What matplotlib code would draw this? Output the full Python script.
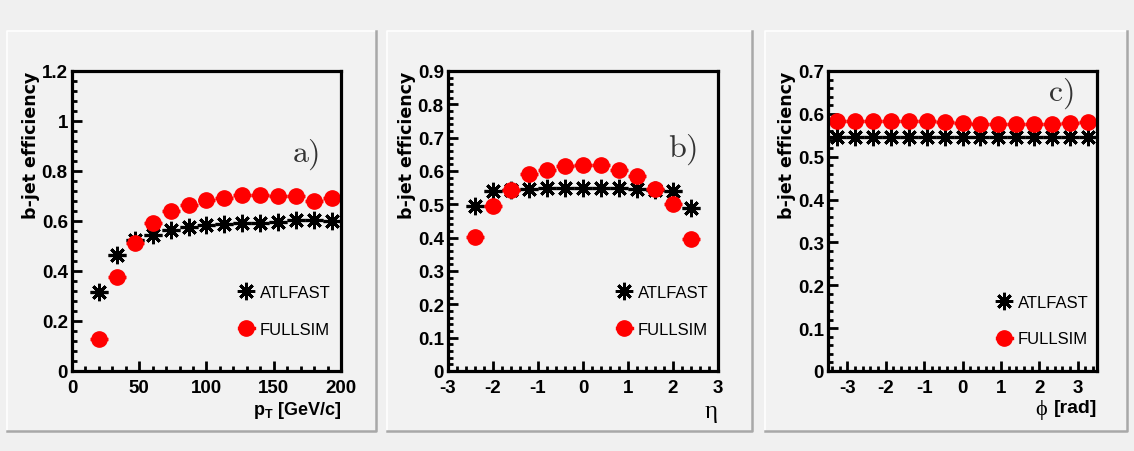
import numpy as np
import matplotlib
matplotlib.use('Agg')
import matplotlib.pyplot as plt
from matplotlib.ticker import MultipleLocator, FuncFormatter
from matplotlib.lines import Line2D
from matplotlib.patches import Rectangle

plt.rcParams['font.family'] = ['Liberation Sans', 'DejaVu Sans']
plt.rcParams['mathtext.fontset'] = 'custom'
plt.rcParams['mathtext.bf'] = 'Liberation Sans:bold'
plt.rcParams['mathtext.rm'] = 'Liberation Sans'
plt.rcParams['axes.unicode_minus'] = False

# ------------------------------------------------------| Data
# a) efficiency vs pT
pt_centers = [20.0, 33.3, 46.7, 60.0, 73.3, 86.7, 100.0, 113.3, 126.7, 140.0, 153.3, 166.7, 180.0, 193.3]
pt_halfwidth = 6.67
pt_atlfast = [0.316, 0.463, 0.524, 0.543, 0.563, 0.578, 0.583, 0.587, 0.591, 0.594, 0.596, 0.603, 0.603, 0.600]
pt_fullsim = [0.127, 0.376, 0.514, 0.594, 0.640, 0.663, 0.684, 0.691, 0.703, 0.703, 0.700, 0.700, 0.680, 0.691]

# b) efficiency vs eta
eta_centers = [-2.4, -2.0, -1.6, -1.2, -0.8, -0.4, 0.0, 0.4, 0.8, 1.2, 1.6, 2.0, 2.4]
eta_halfwidth = 0.2
eta_atlfast = [0.495, 0.540, 0.543, 0.547, 0.550, 0.550, 0.550, 0.550, 0.550, 0.545, 0.543, 0.540, 0.490]
eta_fullsim = [0.402, 0.495, 0.543, 0.590, 0.602, 0.615, 0.617, 0.617, 0.603, 0.585, 0.545, 0.502, 0.395]

# c) efficiency vs phi
phi_centers = [-3.267, -2.8, -2.333, -1.867, -1.4, -0.933, -0.467, 0.0, 0.467, 0.933, 1.4, 1.867, 2.333, 2.8, 3.267]
phi_halfwidth = 0.2333
phi_atlfast = [0.547] * 15
phi_fullsim = [0.584, 0.584, 0.584, 0.584, 0.584, 0.584, 0.581, 0.579, 0.577, 0.576, 0.576, 0.576, 0.576, 0.579, 0.581]

# ------------------------------------------------------| Figure
bg = '#f0f0f0'
fig = plt.figure(figsize=(11.34, 4.52), dpi=100, facecolor=bg)
W, H = 1134.0, 452.0

# raised panel frames (pixel boxes: x0, x1, y0(top), y1(bottom))
frames = [(7, 376, 32, 432), (387, 752, 32, 432), (765, 1127, 32, 432)]
for x0, x1, y0, y1 in frames:
    fx0, fx1 = x0 / W, x1 / W
    fy0, fy1 = 1 - y1 / H, 1 - y0 / H
    fig.add_artist(Rectangle((fx0, fy0), fx1 - fx0, fy1 - fy0, transform=fig.transFigure,
                             facecolor='#f2f2f2', edgecolor='none', zorder=0))
    fig.add_artist(Line2D([fx0, fx0, fx1], [fy0, fy1, fy1], transform=fig.transFigure,
                          color='white', lw=1.2, zorder=1))
    fig.add_artist(Line2D([fx0, fx1, fx1], [fy0, fy0, fy1], transform=fig.transFigure,
                          color='#a8a8a8', lw=1.8, zorder=1))

axes_px = [(72, 341), (448, 718), (828, 1097)]
panels = [
    dict(x=pt_centers, xe=pt_halfwidth, a=pt_atlfast, f=pt_fullsim, xlim=(0, 200), ylim=(0, 1.2),
         xmaj=50, xmin=10, ymaj=0.2, ymin=0.04, tag='a)', tagpos=(0.918, 0.725),
         leg=(0.62, 0.2)),
    dict(x=eta_centers, xe=eta_halfwidth, a=eta_atlfast, f=eta_fullsim, xlim=(-3, 3), ylim=(0, 0.9),
         xmaj=1, xmin=0.2, ymaj=0.1, ymin=0.02, tag='b)', tagpos=(0.922, 0.74),
         leg=(0.625, 0.2)),
    dict(x=phi_centers, xe=phi_halfwidth, a=phi_atlfast, f=phi_fullsim, xlim=(-3.5, 3.5), ylim=(0, 0.7),
         xmaj=1, xmin=0.2, ymaj=0.1, ymin=0.02, tag='c)', tagpos=(0.914, 0.929),
         leg=(0.627, 0.168)),
]

star = (8, 2, 0)

for (px0, px1), p in zip(axes_px, panels):
    ax = fig.add_axes([px0 / W, 1 - 372 / H, (px1 - px0) / W, 300 / H])
    ax.set_facecolor('#f2f2f2')
    ax.set_zorder(2)
    ax.errorbar(p['x'], p['a'], xerr=p['xe'], fmt='none', ecolor='black', elinewidth=2.4, capsize=0)
    ax.plot(p['x'], p['a'], ls='none', marker=star, ms=12.5, mew=2.1, color='black')
    ax.errorbar(p['x'], p['f'], xerr=p['xe'], fmt='none', ecolor='red', elinewidth=2.4, capsize=0)
    ax.plot(p['x'], p['f'], ls='none', marker='o', ms=11, color='red', mec='red')

    h1 = Line2D([], [], color='black', ls='none', marker=star, ms=12.5, mew=2.1)
    h2 = Line2D([], [], color='red', ls='-', lw=2.4, marker='o', ms=11)
    ax.legend([h1, h2], ['ATLFAST', 'FULLSIM'], loc='center left', bbox_to_anchor=p['leg'],
              frameon=False, fontsize=12, handlelength=0.9, handletextpad=0.35,
              labelspacing=1.3, borderpad=0, borderaxespad=0)

    ax.set_xlim(*p['xlim'])
    ax.set_ylim(*p['ylim'])
    ax.xaxis.set_major_locator(MultipleLocator(p['xmaj']))
    ax.xaxis.set_minor_locator(MultipleLocator(p['xmin']))
    ax.yaxis.set_major_locator(MultipleLocator(p['ymaj']))
    ax.yaxis.set_minor_locator(MultipleLocator(p['ymin']))
    ax.tick_params(which='both', direction='in', top=False, right=False, width=2)
    ax.tick_params(which='major', length=7)
    ax.tick_params(which='minor', length=3.5)
    ax.tick_params(axis='x', which='major', pad=6, labelsize=13.5)
    ax.tick_params(axis='y', which='major', pad=3, labelsize=13.5)
    ax.yaxis.set_major_formatter(FuncFormatter(lambda v, pos: '%g' % round(v, 2)))
    for lab in ax.get_xticklabels() + ax.get_yticklabels():
        lab.set_fontweight('bold')
    for s in ax.spines.values():
        s.set_linewidth(2.3)

    ax.text(-0.152, 1.0, 'b-jet efficiency', rotation=90, ha='center', va='top',
            transform=ax.transAxes, fontsize=12.5, fontweight='bold', family='DejaVu Sans')
    ax.text(p['tagpos'][0], p['tagpos'][1], r'$\mathrm{%s}$' % p['tag'], math_fontfamily='cm',
            ha='right', va='center', transform=ax.transAxes, fontsize=23, color='#333333')

    if p['tag'] == 'a)':
        ax.text(1.0, -0.127, r'$\mathbf{p}_{\mathbf{T}}$ [GeV/c]', ha='right', va='center',
                transform=ax.transAxes, fontsize=13, fontweight='bold')
    elif p['tag'] == 'b)':
        ax.text(1.0, -0.135, 'η', ha='right', va='center', transform=ax.transAxes,
                fontsize=18, family='Liberation Serif')
    else:
        t = ax.text(1.0, -0.123, '[rad]', ha='right', va='center', transform=ax.transAxes,
                    fontsize=14, fontweight='bold')
        ax.annotate('ϕ ', xy=(0, 0.45), xycoords=t, ha='right', va='center',
                    fontsize=16, family='Liberation Serif')

fig.savefig('out.png', dpi=100, facecolor=bg)
